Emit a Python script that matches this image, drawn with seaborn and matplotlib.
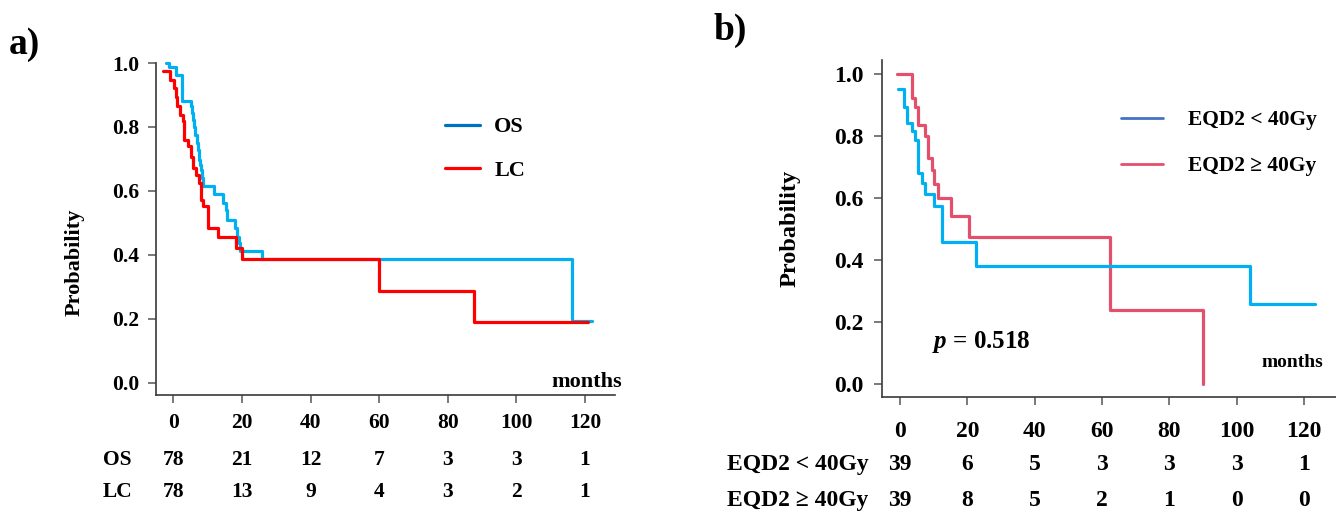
import numpy as np
import pandas as pd
import matplotlib
matplotlib.use("Agg")
import matplotlib.pyplot as plt
from matplotlib.lines import Line2D
import seaborn as sns

# ---- data (months, probability) ----
os_time = [-2.1, -1.2, 0.8, 2.4, 4.7, 5.07, 5.45, 5.83, 6.12, 6.41, 6.8, 7.1, 7.49,
           7.78, 8.08, 8.46, 8.75, 11.9, 14.6, 15.4, 15.7, 18.0, 18.5, 19.0, 19.4,
           25.8, 116.1, 122.0]
os_surv = [1.0, 0.987, 0.962, 0.88, 0.88, 0.864, 0.843, 0.822, 0.801, 0.775, 0.749,
           0.728, 0.697, 0.681, 0.666, 0.64, 0.614, 0.59, 0.562, 0.541, 0.509, 0.483,
           0.457, 0.436, 0.412, 0.386, 0.193, 0.193]

lc_time = [-2.9, -1.0, 0.2, 0.8, 1.2, 2.0, 2.9, 3.1, 4.4, 5.1, 5.8, 6.6, 7.6, 8.0,
           8.5, 10.2, 13.1, 18.3, 19.9, 59.9, 87.7, 120.8]
lc_surv = [0.974, 0.948, 0.922, 0.895, 0.864, 0.838, 0.82, 0.76, 0.739, 0.707, 0.671,
           0.65, 0.624, 0.572, 0.551, 0.483, 0.457, 0.421, 0.386, 0.287, 0.189, 0.189]

low_time = [-0.5, 1.2, 2.2, 3.5, 4.5, 5.4, 6.4, 7.4, 10.2, 12.4, 22.6, 104.0, 123.3]
low_surv = [0.951, 0.895, 0.843, 0.816, 0.787, 0.68, 0.647, 0.613, 0.574, 0.459,
            0.382, 0.257, 0.257]

high_time = [-0.8, 3.7, 4.5, 5.4, 7.4, 8.4, 9.4, 10.2, 11.4, 15.1, 20.6, 62.4, 89.9]
high_surv = [1.0, 0.922, 0.895, 0.835, 0.8, 0.728, 0.69, 0.645, 0.599, 0.543, 0.475,
             0.24, 0.0]

risk_times = [0, 20, 40, 60, 80, 100, 120]
risk_os = [78, 21, 12, 7, 3, 3, 1]
risk_lc = [78, 13, 9, 4, 3, 2, 1]
risk_low = [39, 6, 5, 3, 3, 3, 1]
risk_high = [39, 8, 5, 2, 1, 0, 0]
yticks = [0.0, 0.2, 0.4, 0.6, 0.8, 1.0]

sns.set_style("ticks")
plt.rcParams['font.family'] = ['Liberation Serif', 'DejaVu Serif']
plt.rcParams['font.weight'] = 'bold'
plt.rcParams['text.color'] = 'black'
plt.rcParams['axes.labelcolor'] = 'black'
plt.rcParams['xtick.labelcolor'] = 'black'
plt.rcParams['ytick.labelcolor'] = 'black'
plt.rcParams['mathtext.fontset'] = 'custom'
plt.rcParams['mathtext.it'] = 'Liberation Serif:italic:bold'
plt.rcParams['mathtext.rm'] = 'Liberation Serif:bold'

CYAN = "#00B0F0"
RED = "#FF0000"
PINK = "#E3506B"

fig = plt.figure(figsize=(13.36, 5.14), dpi=100)
ax_a = fig.add_axes([0.1168, 0.2315, 0.3436, 0.6459])
ax_b = fig.add_axes([0.6602, 0.2276, 0.3398, 0.6556])


def style_axis(ax, fs, xpad, ypad):
    sns.despine(ax=ax)
    for s in ["left", "bottom"]:
        ax.spines[s].set_color("#3a3a3a")
        ax.spines[s].set_linewidth(1.2)
    ax.set_xticks(risk_times)
    ax.set_yticks(yticks)
    ax.set_yticklabels([f"{v:.1f}" for v in yticks])
    ax.tick_params(axis="x", length=6, width=1.1, color="#555555", labelcolor="black",
                   pad=xpad, labelsize=fs)
    ax.tick_params(axis="y", length=6, width=1.1, color="#555555", labelcolor="black",
                   pad=ypad, labelsize=fs)
    for lab in ax.get_xticklabels() + ax.get_yticklabels():
        lab.set_fontweight("bold")
    ax.set_xlabel("")


# ---- panel a ----
sns.lineplot(x=os_time, y=os_surv, drawstyle="steps-post", estimator=None, sort=False,
             color=CYAN, lw=2.3, ax=ax_a, clip_on=False)
sns.lineplot(x=lc_time, y=lc_surv, drawstyle="steps-post", estimator=None, sort=False,
             color=RED, lw=2.3, ax=ax_a, clip_on=False)
ax_a.set_xlim(-5.05, 128.8)
ax_a.set_ylim(-0.039, 1.0)
style_axis(ax_a, 15.5, 7, 6)
ax_a.set_ylabel("Probability", fontsize=16, fontweight="bold")
ax_a.yaxis.set_label_coords(-0.155, 0.40)
ax_a.text(1.015, 0.04, "months", transform=ax_a.transAxes, ha="right", va="center",
          fontsize=16, fontweight="bold")
handles_a = [Line2D([], [], color="#0070C0", lw=2.3), Line2D([], [], color=RED, lw=2.3)]
ax_a.legend(handles_a, ["OS", "LC"], loc="upper left", bbox_to_anchor=(0.630, 0.838),
            frameon=False, borderpad=0, borderaxespad=0, handlelength=1.55,
            handletextpad=0.65, labelspacing=1.05, prop={"size": 16, "weight": "bold"})
tr_a = ax_a.get_xaxis_transform()
for lab, vals, yy in [("OS", risk_os, -0.196), ("LC", risk_lc, -0.292)]:
    ax_a.text(-20.5, yy, lab, transform=tr_a, ha="left", va="center", fontsize=15.5,
              fontweight="bold", clip_on=False)
    for t, v in zip(risk_times, vals):
        ax_a.text(t, yy, str(v), transform=tr_a, ha="center", va="center",
                  fontsize=15.5, fontweight="bold", clip_on=False)

# ---- panel b ----
sns.lineplot(x=high_time, y=high_surv, drawstyle="steps-post", estimator=None, sort=False,
             color=PINK, lw=2.3, ax=ax_b, clip_on=False)
sns.lineplot(x=low_time, y=low_surv, drawstyle="steps-post", estimator=None, sort=False,
             color=CYAN, lw=2.3, ax=ax_b, clip_on=False)
ax_b.set_xlim(-5.35, 129.5)
ax_b.set_ylim(-0.042, 1.045)
style_axis(ax_b, 17, 11, 7)
ax_b.set_ylabel("Probability", fontsize=17.5, fontweight="bold")
ax_b.yaxis.set_label_coords(-0.18, 0.5)
ax_b.text(0.971, 0.101, "months", transform=ax_b.transAxes, ha="right", va="center",
          fontsize=14, fontweight="bold")
ax_b.text(0.110, 0.163, "$p$ = 0.518", transform=ax_b.transAxes, ha="left", va="center",
          fontsize=18, fontweight="bold")
handles_b = [Line2D([], [], color="#4472C4", lw=2.0), Line2D([], [], color=PINK, lw=2.0)]
ax_b.legend(handles_b, ["EQD2 < 40Gy", "EQD2 \u2265 40Gy"], loc="upper left",
            bbox_to_anchor=(0.526, 0.851), frameon=False, borderpad=0, borderaxespad=0,
            handlelength=1.95, handletextpad=1.16, labelspacing=1.2,
            prop={"size": 15.5, "weight": "bold"})
tr_b = ax_b.get_xaxis_transform()
for lab, vals, yy in [("EQD2 < 40Gy", risk_low, -0.201), ("EQD2 \u2265 40Gy", risk_high, -0.308)]:
    ax_b.text(-51.4, yy, lab, transform=tr_b, ha="left", va="center", fontsize=17,
              fontweight="bold", clip_on=False)
    for t, v in zip(risk_times, vals):
        ax_b.text(t, yy, str(v), transform=tr_b, ha="center", va="center",
                  fontsize=17, fontweight="bold", clip_on=False)

fig.text(9 / 1336, 1 - 45 / 514, "a)", ha="left", va="center", fontsize=27, fontweight="bold")
fig.text(714 / 1336, 1 - 30 / 514, "b)", ha="left", va="center", fontsize=27, fontweight="bold")

fig.savefig("out.png", dpi=100)
